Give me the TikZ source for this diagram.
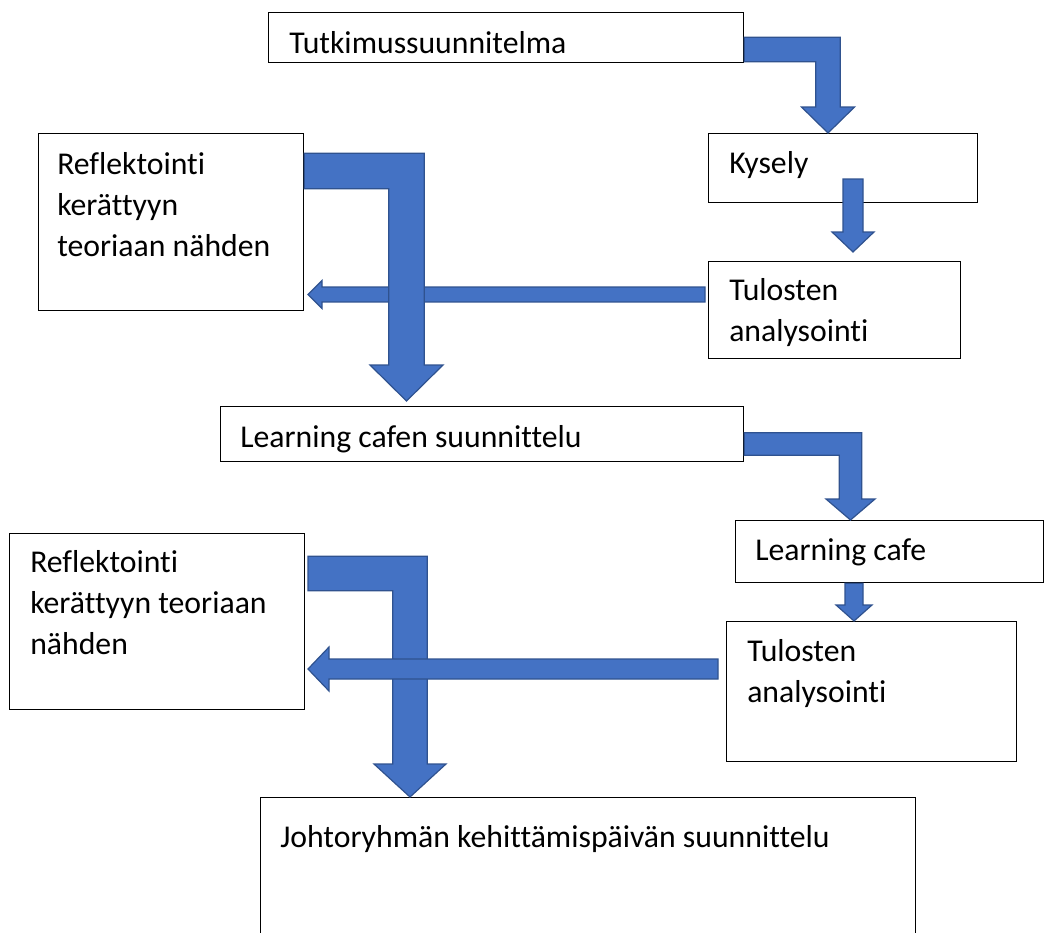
\documentclass[tikz,border=0pt]{standalone}
\usepackage{fontspec}
\setmainfont{Carlito}[Ligatures=NoCommon]
\usepackage{tikz}
\usetikzlibrary{calc}
\definecolor{arrowfill}{RGB}{68,114,196}
\definecolor{arrowedge}{RGB}{47,82,143}

% block arrows: start, tip, half shaft, half head, head length
\newcommand{\bentblock}[5]{%
  \filldraw[blockarrow] let \p1=(#1), \p2=(#2) in
    (\x1,\y1+#3) -- (\x2+#3,\y1+#3) -- (\x2+#3,\y2+#5) -- (\x2+#4,\y2+#5)
    -- (\x2,\y2) -- (\x2-#4,\y2+#5) -- (\x2-#3,\y2+#5) -- (\x2-#3,\y1-#3)
    -- (\x1,\y1-#3) -- cycle;}
\newcommand{\downblock}[5]{%
  \filldraw[blockarrow] let \p1=(#1), \p2=(#2) in
    (\x1+#3,\y1) -- (\x1+#3,\y2+#5) -- (\x1+#4,\y2+#5) -- (\x1,\y2)
    -- (\x1-#4,\y2+#5) -- (\x1-#3,\y2+#5) -- (\x1-#3,\y1) -- cycle;}
\newcommand{\leftblock}[5]{%
  \filldraw[blockarrow] let \p1=(#1), \p2=(#2) in
    (\x1,\y1+#3) -- (\x2+#5,\y1+#3) -- (\x2+#5,\y1+#4) -- (\x2,\y1)
    -- (\x2+#5,\y1-#4) -- (\x2+#5,\y1-#3) -- (\x1,\y1-#3) -- cycle;}

\begin{document}
\begin{tikzpicture}[x=0.75pt,y=-0.75pt,
    box/.style 2 args={draw,line width=1pt,anchor=north west,inner sep=0pt,
      minimum width=#1*0.75pt,minimum height=#2*0.75pt},
    txt/.style={anchor=base west,align=left,inner sep=0pt,
      font=\fontsize{23.8}{30.4}\selectfont},
    blockarrow/.style={fill=arrowfill,draw=arrowedge,line width=0.9pt,line join=miter}]
  \useasboundingbox (0,0) rectangle (1049,932);
  \clip (0,0) rectangle (1049,932);

  % boxes
  \node[box={475}{50}]  (tut)   at (268,12)  {};
  \node[box={269}{69}]  (kys)   at (708,133) {};
  \node[box={265}{177}] (refl1) at (38,133)  {};
  \node[box={252}{97}]  (tul1)  at (708,261) {};
  \node[box={523}{55}]  (lcs)   at (220,406) {};
  \node[box={308}{62}]  (lc)    at (735,520) {};
  \node[box={295}{176}] (refl2) at (9,533)   {};
  \node[box={290}{140}] (tul2)  at (726,621) {};
  \node[box={655}{160}] (joh)   at (260,797) {};

  % box texts (multi-line ones sit on their last line)
  \node[txt] (tut-t)   at (289,53)  {Tutkimussuunnitelma};
  \node[txt] (kys-t)   at (729,173) {Kysely};
  \node[txt] (refl1-t) at (57,256)  {Reflektointi\\kerättyyn\\teoriaan nähden};
  \node[txt] (tul1-t)  at (729,341) {Tulosten\\analysointi};
  \node[txt] (lcs-t)   at (240,447) {Learning cafen suunnittelu};
  \node[txt] (lc-t)    at (755,560) {Learning cafe};
  \node[txt] (refl2-t) at (30,654)  {Reflektointi\\kerättyyn teoriaan\\nähden};
  \node[txt] (tul2-t)  at (747,702) {Tulosten\\analysointi};
  \node[txt] (joh-t)   at (280,847) {Johtoryhmän kehittämispäivän suunnittelu};

  % free arrow ends
  \coordinate (kysout)  at (853,179);
  \coordinate (tul1in)  at (853,252);
  \coordinate (tul1out) at (705,294.5);
  \coordinate (refl1in) at (308,294.5);
  \coordinate (lcsin)   at (406.5,401);
  \coordinate (refl2out) at (308,573.5);
  \coordinate (tul2out) at (718,669);
  \coordinate (refl2in) at (308,669);

  % first round
  \bentblock{tut.east |- 0,49.5}{kys.north -| 828,0}{9.2pt}{19.9pt}{19.5pt}
  \downblock{kysout}{tul1in}{7.5pt}{15.75pt}{15pt}
  \leftblock{tul1out}{refl1in}{5.6pt}{10.5pt}{10.5pt}
  \bentblock{refl1.east |- 0,171}{lcsin}{13.3pt}{27.4pt}{27pt}

  % second round
  \bentblock{lcs.east |- 0,444}{lc.north -| 850.5,0}{8.4pt}{18.4pt}{15.75pt}
  \downblock{lc.south -| 854,0}{tul2.north -| 854,0}{6.75pt}{13.5pt}{12pt}
  \bentblock{refl2out}{joh.north -| 410,0}{12.9pt}{27pt}{24.75pt}
  \leftblock{tul2out}{refl2in}{7.5pt}{16.5pt}{15.75pt}
\end{tikzpicture}
\end{document}
